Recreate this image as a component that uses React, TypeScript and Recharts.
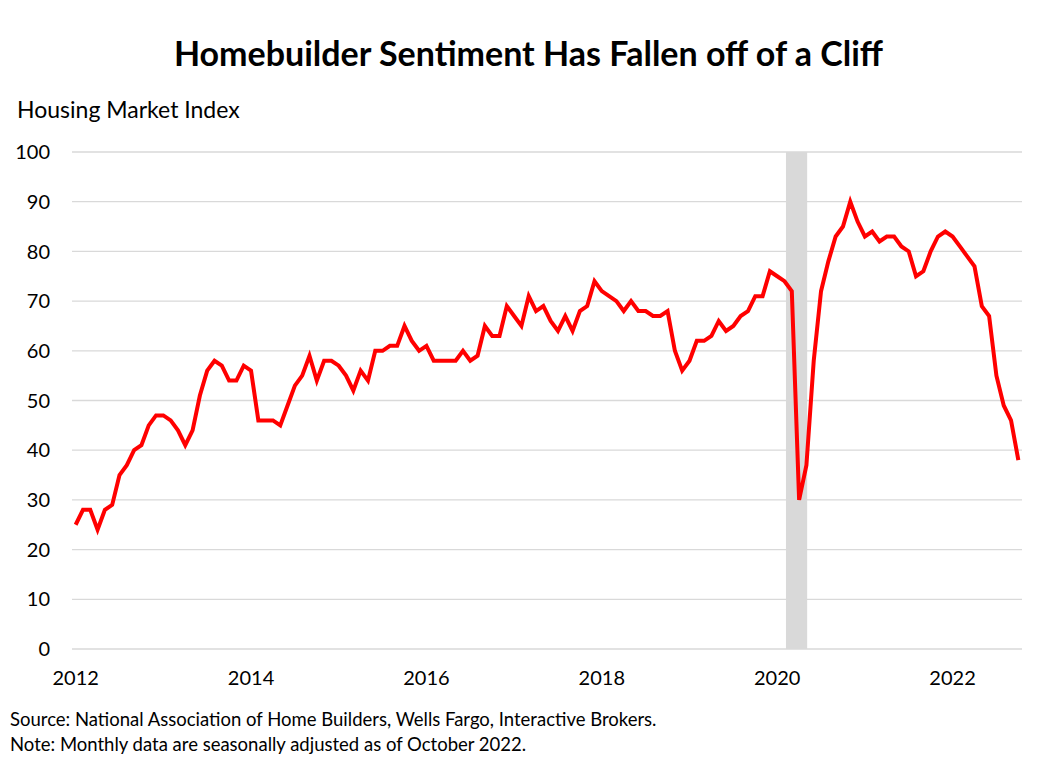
import { LineChart, Line, XAxis, YAxis, CartesianGrid, ReferenceArea } from "recharts";

const years = ["2012", "2013", "2014", "2015", "2016", "2017", "2018", "2019", "2020", "2021", "2022"];

const hmi = [
  25, 28, 28, 24, 28, 29, 35, 37, 40, 41, 45, 47,
  47, 46, 44, 41, 44, 51, 56, 58, 57, 54, 54, 57,
  56, 46, 46, 46, 45, 49, 53, 55, 59, 54, 58, 58,
  57, 55, 52, 56, 54, 60, 60, 61, 61, 65, 62, 60,
  61, 58, 58, 58, 58, 60, 58, 59, 65, 63, 63, 69,
  67, 65, 71, 68, 69, 66, 64, 67, 64, 68, 69, 74,
  72, 71, 70, 68, 70, 68, 68, 67, 67, 68, 60, 56,
  58, 62, 62, 63, 66, 64, 65, 67, 68, 71, 71, 76,
  75, 74, 72, 30, 37, 58, 72, 78, 83, 85, 90, 86,
  83, 84, 82, 83, 83, 81, 80, 75, 76, 80, 83, 84,
  83, 81, 79, 77, 69, 67, 55, 49, 46, 38,
];

// recession band, month indexes (Feb 2020 .. Apr 2020)
const recessionStart = 97;
const recessionEnd = 100;

const xTicks = [0, 24, 48, 72, 96, 120];
const yTicks = [0, 10, 20, 30, 40, 50, 60, 70, 80, 90, 100];

const data = hmi.map((v, i) => ({ idx: i, value: v }));

const font = "Lato, 'Open Sans', sans-serif";

export default function App() {
  return (
    <div style={{ position: "absolute", left: 0, top: 0, width: 1057, height: 766, background: "#fff", fontFamily: font, color: "#000" }}>
      <div style={{ position: "absolute", top: 32, left: 0, width: 1057, textAlign: "center", fontSize: 34, fontWeight: 700 }}>
        Homebuilder Sentiment Has Fallen off of a Cliff
      </div>
      <div style={{ position: "absolute", top: 95, left: 17, fontSize: 23 }}>Housing Market Index</div>
      <LineChart
        width={1057}
        height={766}
        data={data}
        margin={{ top: 152, right: 35, bottom: 77, left: 12 }}
      >
        <CartesianGrid vertical={false} stroke="#d9d9d9" strokeWidth={1.3} />
        <ReferenceArea x1={recessionStart + 0.2} x2={recessionEnd + 0.1} y1={0} y2={100} fill="#d9d9d9" fillOpacity={1} stroke="none" />
        <XAxis
          dataKey="idx"
          type="number"
          domain={[-0.5, 129.5]}
          ticks={xTicks}
          tickFormatter={(v: number) => years[v / 12]}
          axisLine={false}
          tickLine={false}
          tickSize={0}
          tickMargin={22}
          height={40}
          tick={{ fill: "#000", fontSize: 20, fontFamily: font }}
        />
        <YAxis
          type="number"
          domain={[0, 100]}
          ticks={yTicks}
          axisLine={false}
          tickLine={false}
          tickSize={0}
          tickMargin={22}
          width={60}
          tick={{ fill: "#000", fontSize: 20, fontFamily: font }}
        />
        <Line
          dataKey="value"
          stroke="#ff0000"
          strokeWidth={4}
          dot={false}
          isAnimationActive={false}
        />
      </LineChart>
      <div style={{ position: "absolute", top: 707, left: 10, fontSize: 18.5, lineHeight: "25px" }}>
        Source: National Association of Home Builders, Wells Fargo, Interactive Brokers.
        <br />
        Note: Monthly data are seasonally adjusted as of October 2022.
      </div>
    </div>
  );
}
